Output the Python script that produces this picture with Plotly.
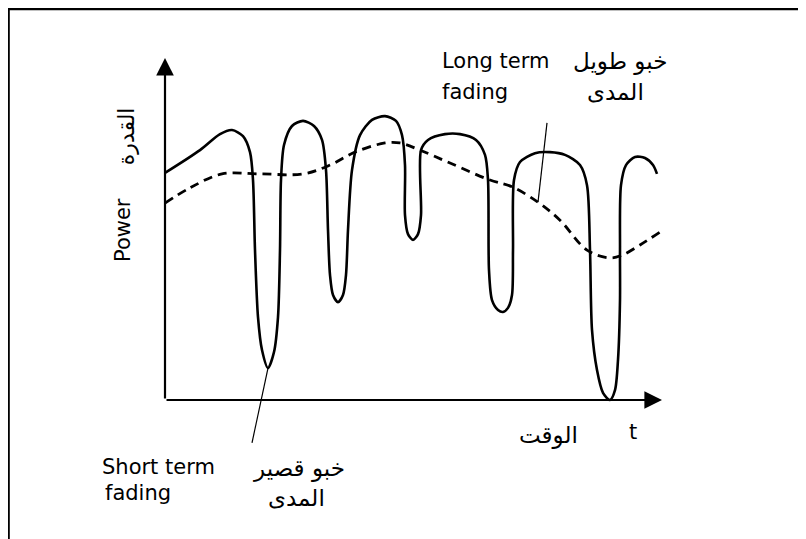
import plotly.graph_objects as go

# ---- data (time t, power P) ----
short_t = [0.00, 0.70, 1.10, 1.34, 1.56, 1.70, 1.76, 1.80, 1.86, 1.94, 2.06, 2.18,
           2.26, 2.30, 2.32, 2.38, 2.54, 2.76, 2.98, 3.14, 3.22, 3.26, 3.30, 3.36,
           3.46, 3.56, 3.62, 3.66, 3.74, 3.90, 4.14, 4.40, 4.62, 4.74, 4.80, 4.80,
           4.86, 4.96, 5.06, 5.12, 5.12, 5.26, 5.60, 5.90, 6.22, 6.40, 6.46, 6.48,
           6.54, 6.66, 6.76, 6.86, 6.94, 6.96, 6.98, 7.10, 7.40, 7.70, 8.00, 8.30,
           8.44, 8.50, 8.54, 8.64, 8.76, 8.90, 9.00, 9.06, 9.10, 9.10, 9.12, 9.22,
           9.40, 9.60, 9.76, 9.84]
short_p = [6.68, 7.35, 7.82, 7.94, 7.76, 7.29, 6.47, 4.41, 2.44, 1.47, 0.94, 1.41,
           2.44, 4.41, 6.47, 7.50, 8.06, 8.21, 8.06, 7.65, 6.76, 5.00, 3.68, 3.09,
           2.88, 3.09, 3.68, 5.00, 6.76, 7.79, 8.24, 8.35, 8.21, 7.79, 6.91, 5.44,
           4.88, 4.71, 4.88, 5.44, 7.35, 7.65, 7.82, 7.82, 7.65, 7.21, 6.47, 3.82,
           2.94, 2.65, 2.59, 2.71, 3.09, 4.41, 6.47, 7.00, 7.26, 7.29, 7.21, 6.91,
           6.32, 4.41, 2.06, 0.88, 0.21, 0.00, 0.29, 1.18, 2.94, 4.41, 6.32, 6.91,
           7.15, 7.12, 6.91, 6.65]

long_t = [0.00, 0.50, 1.14, 1.90, 2.76, 3.30, 3.80, 4.40, 4.70, 5.10, 5.70, 6.50,
          6.94, 7.46, 7.90, 8.44, 8.90, 9.14, 9.50, 9.90]
long_p = [5.79, 6.24, 6.65, 6.65, 6.65, 6.91, 7.29, 7.56, 7.56, 7.35, 6.97, 6.47,
          6.27, 5.82, 5.29, 4.41, 4.18, 4.26, 4.56, 4.94]

# pointer lines for the two annotations
short_ptr_t = [2.06, 1.74]
short_ptr_p = [0.94, -1.26]
long_ptr_t = [7.64, 7.46]
long_ptr_p = [8.15, 5.82]

# axis extents
x_axis_end = 9.94
y_axis_end = 10.06

# labels: (text, t, P, anchor, angle, size)
labels = [
    ("Power", -0.84, 5.0, "center", -90, 21),
    ("القدرة", -0.78, 7.76, "center", -90, 22),
    ("Long term", 5.5, 9.97, "left", 0, 21),
    ("fading", 5.5, 9.06, "left", 0, 21),
    ("خبو طويل", 9.1, 9.97, "center", 0, 23),
    ("المدى", 9.0, 9.06, "center", 0, 23),
    ("t", 9.36, -0.94, "center", 0, 21),
    ("الوقت", 7.66, -1.03, "center", 0, 23),
    ("Short term", -1.3, -1.97, "left", 0, 21),
    ("fading", -1.24, -2.74, "left", 0, 21),
    ("خبو قصير", 2.68, -2.0, "center", 0, 23),
    ("المدى", 2.62, -2.88, "center", 0, 23),
]

FONT = "DejaVu Sans"

fig = go.Figure()
fig.add_trace(go.Scatter(x=short_t, y=short_p, mode="lines",
                         line=dict(color="black", width=2.6, shape="spline", smoothing=0.8),
                         hoverinfo="skip"))
fig.add_trace(go.Scatter(x=long_t, y=long_p, mode="lines",
                         line=dict(color="black", width=2.8, dash="9px,6px", shape="spline", smoothing=1.0),
                         hoverinfo="skip"))
fig.add_trace(go.Scatter(x=short_ptr_t, y=short_ptr_p, mode="lines",
                         line=dict(color="black", width=1.2), hoverinfo="skip"))
fig.add_trace(go.Scatter(x=long_ptr_t, y=long_ptr_p, mode="lines",
                         line=dict(color="black", width=1.2), hoverinfo="skip"))

annotations = []
# axes with arrows
annotations.append(dict(x=0, y=y_axis_end, ax=0, ay=0, xref="x", yref="y", axref="x", ayref="y",
                        showarrow=True, arrowhead=2, arrowsize=1.6, arrowwidth=2.2,
                        arrowcolor="black", text="", standoff=0))
annotations.append(dict(x=x_axis_end, y=0, ax=0, ay=0, xref="x", yref="y", axref="x", ayref="y",
                        showarrow=True, arrowhead=2, arrowsize=1.6, arrowwidth=2.2,
                        arrowcolor="black", text="", standoff=0))
for text, t, p, anchor, ang, sz in labels:
    annotations.append(dict(x=t, y=p, xref="x", yref="y", text=text, showarrow=False,
                            xanchor=anchor, yanchor="middle", textangle=ang,
                            font=dict(family=FONT, size=sz, color="black")))

fig.update_layout(
    width=798, height=531,
    margin=dict(l=0, r=0, t=0, b=0),
    paper_bgcolor="white", plot_bgcolor="white",
    showlegend=False,
    xaxis=dict(range=[-3.14, 12.82], visible=False, fixedrange=True),
    yaxis=dict(range=[-4.088, 11.53], visible=False, fixedrange=True),
    annotations=annotations,
    shapes=[
        dict(type="line", xref="paper", yref="paper", x0=0.0, x1=1, y0=0.998, y1=0.998,
             line=dict(color="black", width=2.5)),
        dict(type="line", xref="paper", yref="paper", x0=0.001, x1=0.001, y0=0, y1=0.998,
             line=dict(color="black", width=2)),
        dict(type="line", xref="paper", yref="paper", x0=0.9925, x1=0.9925, y0=0, y1=0.998,
             line=dict(color="black", width=2)),
    ],
)

fig.write_html("out.html")
